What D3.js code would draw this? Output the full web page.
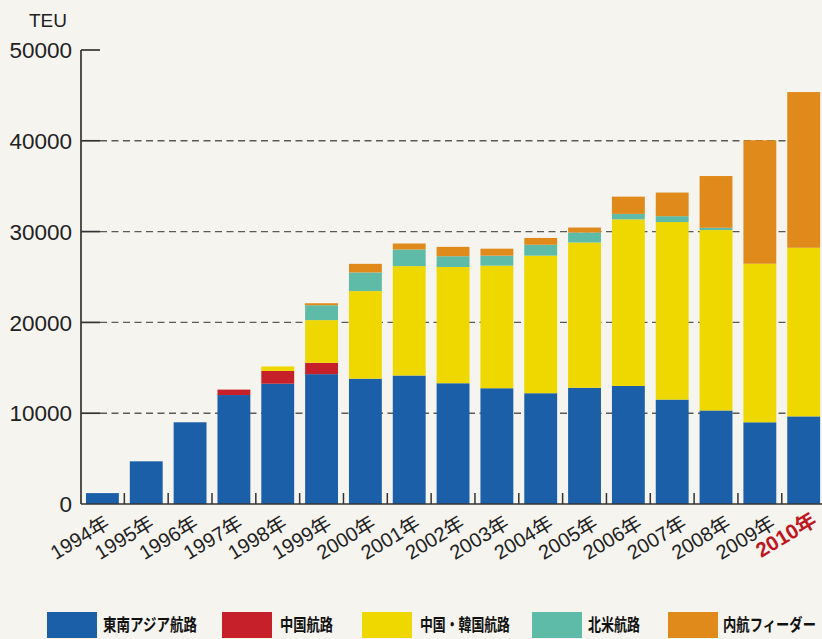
<!DOCTYPE html>
<html>
<head>
<meta charset="utf-8">
<script src="https://cdn.jsdelivr.net/npm/d3@7"></script>
<style>
  html, body { margin: 0; padding: 0; background: #f5f4ef; }
  svg { display: block; }
</style>
</head>
<body>
<svg id="chart" width="822" height="639"></svg>
<script>
// ---- data ----
const years = ["1994","1995","1996","1997","1998","1999","2000","2001","2002","2003","2004","2005","2006","2007","2008","2009","2010"];
const seriesNames = ["東南アジア航路", "中国航路", "中国・韓国航路", "北米航路", "内航フィーダー"];
const southeastAsia = [1200, 4700, 9000, 12000, 13250, 14300, 13800, 14150, 13300, 12750, 12200, 12800, 13000, 11500, 10300, 9000, 9650];
const china         = [0, 0, 0, 600, 1400, 1250, 0, 0, 0, 0, 0, 0, 0, 0, 0, 0, 0];
const chinaKorea    = [0, 0, 0, 0, 500, 4700, 9650, 12050, 12800, 13500, 15150, 16000, 18350, 19550, 19870, 17460, 18570];
const northAmerica  = [0, 0, 0, 0, 0, 1640, 2050, 1830, 1190, 1100, 1200, 1100, 600, 650, 250, 0, 0];
const domesticFeeder= [0, 0, 0, 0, 0, 220, 950, 660, 1030, 770, 750, 550, 1900, 2600, 5700, 13600, 17150];
const yTicks = [0, 10000, 20000, 30000, 40000, 50000];
const unitLabel = "TEU";
const highlightYear = "2010";

// ---- styles ----
const colors = ["#1c5fa9", "#c6202a", "#efd800", "#5dbba7", "#e08a1c"];
const fontLatin = "'Liberation Sans', Arial, 'Noto Sans CJK JP', sans-serif";
const fontCJK = "'Noto Sans CJK JP', 'Liberation Sans', sans-serif";

const svg = d3.select("#chart");
svg.append("rect").attr("width", 822).attr("height", 639).attr("fill", "#f5f4ef");

const table = years.map((yr, i) => ({
  year: yr,
  [seriesNames[0]]: southeastAsia[i],
  [seriesNames[1]]: china[i],
  [seriesNames[2]]: chinaKorea[i],
  [seriesNames[3]]: northAmerica[i],
  [seriesNames[4]]: domesticFeeder[i]
}));
const stacked = d3.stack().keys(seriesNames)(table);

// ---- scales ----
const x = d3.scaleBand().domain(years).range([80.5, 825.6]).paddingInner(0.25).paddingOuter(0.125);
const y = d3.scaleLinear().domain([0, 50000]).range([504, 50]);
const labelX = d3.scalePoint().domain(years).range([111, 821]);
const color = d3.scaleOrdinal().domain(seriesNames).range(colors);

// ---- gridlines (dashed) ----
svg.append("g").selectAll("line")
  .data(yTicks.filter(t => t > 0 && t < 50000))
  .join("line")
  .attr("x1", 100).attr("x2", 822)
  .attr("y1", d => y(d)).attr("y2", d => y(d))
  .attr("stroke", "#5a5a5a").attr("stroke-width", 1.4)
  .attr("stroke-dasharray", "7,4.5");

// ---- bars ----
svg.append("g").selectAll("g")
  .data(stacked)
  .join("g")
  .attr("fill", d => color(d.key))
  .selectAll("rect")
  .data(d => d)
  .join("rect")
  .attr("x", d => x(d.data.year))
  .attr("width", x.bandwidth())
  .attr("y", d => y(d[1]))
  .attr("height", d => Math.max(0, y(d[0]) - y(d[1])));

// ---- y axis ----
const yAxis = svg.append("g").attr("transform", "translate(81,0)");
yAxis.append("line").attr("x1", 0).attr("x2", 0).attr("y1", y(50000)).attr("y2", y(0))
  .attr("stroke", "#333").attr("stroke-width", 1.7);
yAxis.selectAll("line.tick").data(yTicks.filter(t => t > 0)).join("line")
  .attr("class", "tick")
  .attr("x1", 0).attr("x2", 19)
  .attr("y1", d => y(d)).attr("y2", d => y(d))
  .attr("stroke", "#333").attr("stroke-width", 1.7);
yAxis.selectAll("text").data(yTicks).join("text")
  .attr("x", -9).attr("y", d => y(d))
  .attr("dy", "0.36em")
  .attr("text-anchor", "end")
  .attr("font-family", fontLatin)
  .attr("font-size", 22.5)
  .attr("fill", "#222")
  .text(d => d);
svg.append("text")
  .attr("x", 67).attr("y", 27)
  .attr("text-anchor", "end")
  .attr("font-family", fontLatin)
  .attr("font-size", 19)
  .attr("fill", "#222")
  .text(unitLabel);

// ---- x axis baseline and ticks ----
svg.append("line").attr("x1", 81).attr("x2", 822).attr("y1", y(0)).attr("y2", y(0))
  .attr("stroke", "#333").attr("stroke-width", 1.7);
svg.append("g").selectAll("line")
  .data(years.slice(1))
  .join("line")
  .attr("x1", d => x(d) - x.step() * x.paddingInner() / 2)
  .attr("x2", d => x(d) - x.step() * x.paddingInner() / 2)
  .attr("y1", y(0)).attr("y2", y(0) - 11)
  .attr("stroke", "#333").attr("stroke-width", 1.5);

// ---- x labels ----
svg.append("g").selectAll("text")
  .data(years)
  .join("text")
  .attr("transform", d => `translate(${labelX(d) - (d === highlightYear ? 3 : 0)},${d === highlightYear ? 524 : 527}) rotate(-31)`)
  .attr("text-anchor", "end")
  .attr("font-family", fontLatin)
  .attr("font-size", d => d === highlightYear ? 20.5 : 20)
  .attr("font-weight", d => d === highlightYear ? "bold" : "normal")
  .attr("fill", d => d === highlightYear ? "#c0161e" : "#222")
  .text(d => d + "年");

// ---- legend ----
const legendBoxX = [47, 222, 362, 532, 668];
const legendTextX = [103, 280, 420, 588, 723];
const legendTextW = [94, 53, 90, 52, 93];
const legend = svg.append("g");
seriesNames.forEach((name, i) => {
  legend.append("rect")
    .attr("x", legendBoxX[i]).attr("y", 612)
    .attr("width", 50).attr("height", 26)
    .attr("fill", color(name));
  const g = legend.append("g");
  const t = g.append("text")
    .attr("x", 0).attr("y", 0)
    .attr("font-family", fontCJK)
    .attr("font-weight", "bold")
    .attr("font-size", 17)
    .attr("fill", "#111")
    .text(name);
  const natural = t.node().getComputedTextLength() || legendTextW[i];
  g.attr("transform", `translate(${legendTextX[i]},631) scale(${legendTextW[i] / natural},1)`);
});
</script>
</body>
</html>
